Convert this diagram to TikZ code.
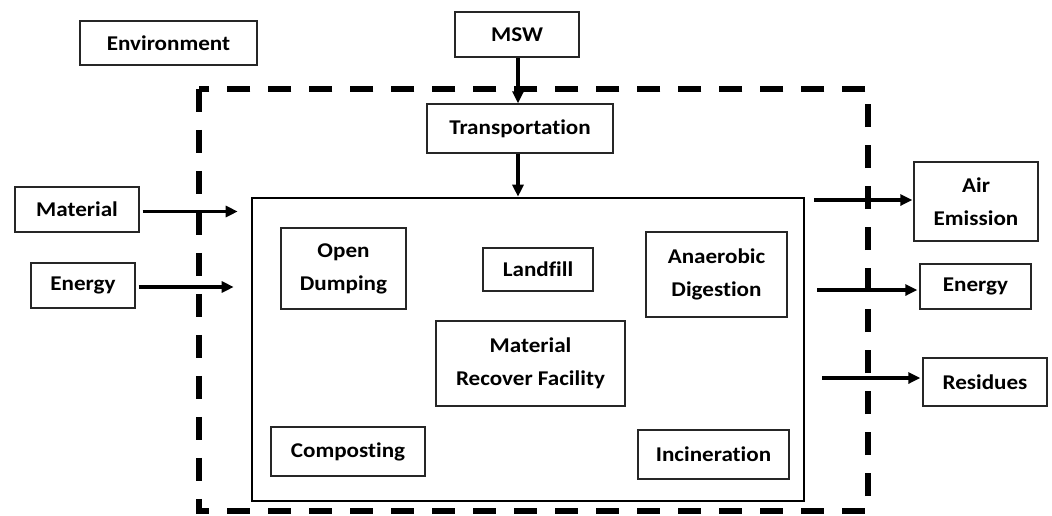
\documentclass[tikz,border=0pt]{standalone}
\usepackage{fontspec}
\setmainfont{Carlito}[FakeStretch=1.1, Ligatures={NoCommon}]
\usetikzlibrary{arrows.meta}
\tikzset{
  box/.style={draw=black!85, line width=1.4pt, inner sep=0pt, align=center,
    font=\bfseries\fontsize{21}{33}\selectfont},
  mainbox/.style={draw=black, line width=2.6pt, inner sep=0pt},
  envline/.style={draw=black, line width=6pt, dash pattern=on 23pt off 18pt},
  arr/.style={line width=3.2pt, -{Triangle[length=12pt,width=11pt]}}
}
% box by corners: \bx{name}{x1}{y1}{x2}{y2}{text}
\newcommand{\bx}[6]{%
  \node[box, minimum width={#4-#2}, minimum height={#5-#3}] (#1) at ({(#2+#4)/2},{(#3+#5)/2}) {#6};}
\begin{document}
\begin{tikzpicture}[x=1pt,y=-1pt]
\useasboundingbox (0,0) rectangle (1052,515);
% environment boundary
\node[inner sep=0pt, minimum width=669pt, minimum height=422pt] (env) at (533.5,300) {};
\draw[envline] (env.north west) rectangle (env.south east);
% main process box
\node[mainbox, minimum width=552pt, minimum height=303pt] (main) at (528,349.5) {};
\bx{envlabel}{80}{21}{257}{65}{Environment}
\bx{msw}{455}{12}{579}{57}{MSW}
\bx{trans}{427}{104}{613}{153}{Transportation}
\bx{mat}{15}{187}{139}{232}{Material}
\bx{eL}{31}{263}{135}{308}{Energy}
\bx{od}{281}{228}{406}{309}{Open\\Dumping}
\bx{lf}{483}{248}{593}{291}{Landfill}
\bx{ad}{646}{232}{787}{317}{Anaerobic\\Digestion}
\bx{mrf}{436}{321}{625}{406}{Material\\Recover Facility}
\bx{comp}{271}{427}{425}{476}{Composting}
\bx{inc}{638}{430}{789}{479}{Incineration}
\bx{air}{914}{162}{1038}{241}{Air\\Emission}
\bx{eR}{920}{264}{1031}{309}{Energy}
\bx{res}{923}{358}{1047}{406}{Residues}
% connectors
\draw[arr] ([xshift=1pt]msw.south) -- ([xshift=-2pt]trans.north);
\draw[arr] ([xshift=-2pt]trans.south) -- ([xshift=-2pt]trans.south |- main.north);
\draw[arr, shorten <=3pt, shorten >=13pt] ([yshift=-2pt]mat.east) -- ([yshift=-2pt]mat.east -| main.west);
\draw[arr, shorten <=3pt, shorten >=17pt] ([yshift=-1.5pt]eL.east) -- ([yshift=-1.5pt]eL.east -| main.west);
\draw[arr, shorten <=9pt, shorten >=1pt] ([yshift=1.5pt]air.west -| main.east) -- ([yshift=1.5pt]air.west);
\draw[arr, shorten <=12pt, shorten >=2pt] ([yshift=-3.5pt]eR.west -| main.east) -- ([yshift=-3.5pt]eR.west);
\draw[arr, shorten <=17pt, shorten >=2pt] ([yshift=4pt]res.west -| main.east) -- ([yshift=4pt]res.west);
\end{tikzpicture}
\end{document}
